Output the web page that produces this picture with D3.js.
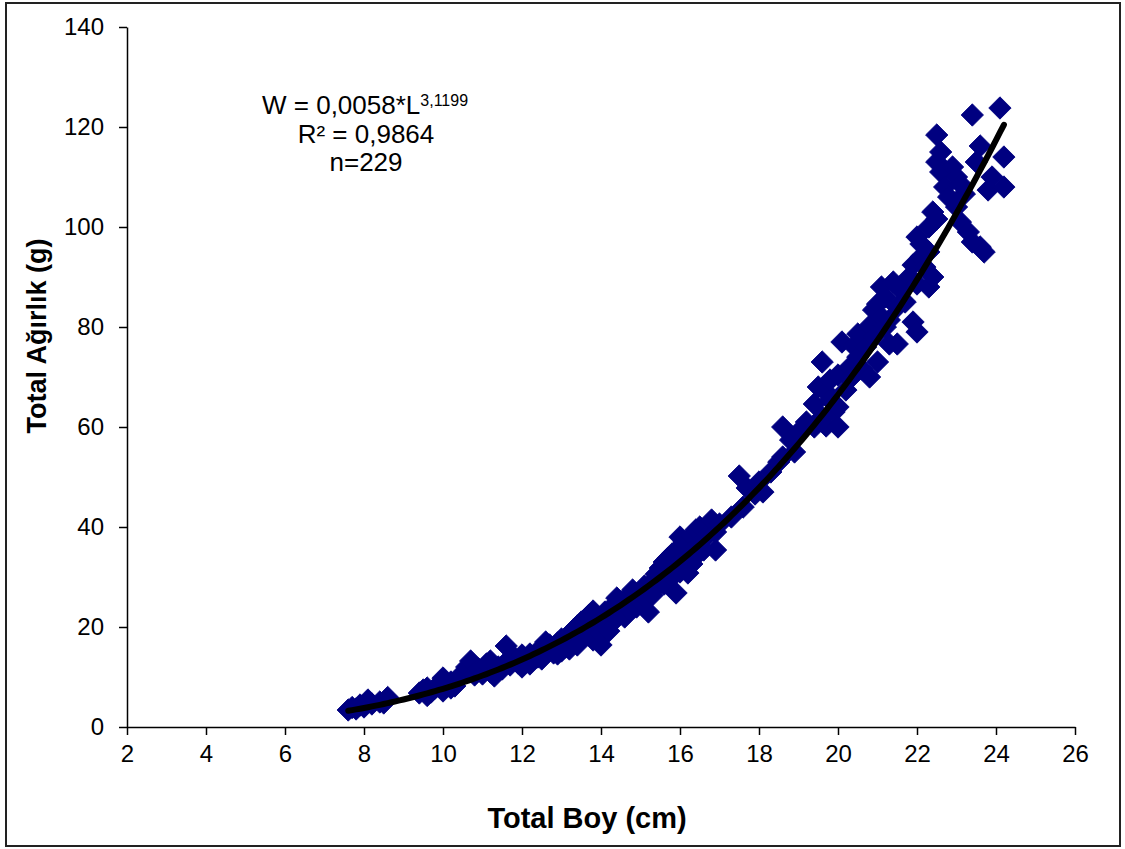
<!DOCTYPE html>
<html>
<head>
<meta charset="utf-8">
<script src="https://cdn.jsdelivr.net/npm/d3@7"></script>
<style>
  body { margin: 0; background: #fff; }
  text { font-family: "Liberation Sans", Arial, sans-serif; fill: #000; }
</style>
</head>
<body>
<div id="chart"></div>
<script>
// total length (cm) of each fish
var boyCm = [
  7.6, 7.7, 7.8, 7.9, 8.0, 8.1, 8.2, 8.4, 8.6, 8.5,
  9.4, 9.5, 9.6, 9.7, 9.8, 9.9, 10.0, 10.0, 10.1, 10.2, 10.3, 10.4, 9.6, 10.2,
  10.6, 10.7, 10.8, 10.9, 11.0, 11.1, 11.2, 11.3, 11.4, 11.5, 11.6, 11.6, 11.7, 11.8, 11.9, 12.0, 12.0, 11.2,
  12.1, 12.2, 12.2, 12.3, 12.4, 12.4, 12.5, 12.6, 12.6, 12.7, 12.8, 12.8, 12.9, 13.0, 13.0, 13.1, 13.2, 13.2,
  13.3, 13.3, 13.4, 13.4, 13.5, 13.5, 12.9,
  13.6, 13.6, 13.7, 13.7, 13.8, 13.8, 13.9, 13.9, 14.0, 14.0, 14.0, 14.1, 14.2, 14.2, 14.3, 14.3, 14.4, 14.4,
  14.5, 14.5, 14.6, 14.6, 14.7, 14.7, 14.8, 14.8, 14.9, 14.9, 15.0, 15.0, 15.1, 15.1, 15.2, 15.2, 15.3,
  15.3, 15.4, 15.4, 15.5, 15.5, 15.6, 15.6, 15.7, 15.7, 15.8, 15.8, 15.9, 15.9, 16.0, 16.0, 16.0, 16.1, 16.1,
  16.2, 16.2, 16.3, 16.3, 16.4, 16.4, 16.5, 16.5, 16.6, 16.6, 16.7, 16.8, 16.9, 16.9, 17.0, 16.2,
  17.3, 17.5, 17.6, 17.7, 17.9, 18.0, 18.1, 18.3, 18.5, 18.6, 18.6, 18.8, 19.0, 18.9, 19.2,
  19.4, 19.4, 19.5, 19.6, 19.6, 19.7, 19.7, 19.8, 19.8, 19.9, 20.0, 20.0, 20.0, 20.1, 20.2, 20.3, 20.4, 20.5,
  20.5, 20.6, 20.7, 20.8, 20.8, 20.9, 20.9, 21.0, 21.0, 20.3,
  21.1, 21.1, 21.2, 21.2, 21.3, 21.3, 21.4, 21.5, 21.5, 21.6, 21.7, 21.8, 21.9, 21.9, 22.0, 22.0, 22.0, 22.1,
  22.2, 22.3, 22.3, 22.3, 22.4, 22.4, 22.5, 22.5, 22.5, 22.1,
  22.6, 22.6, 22.7, 22.8, 22.9, 23.0, 23.0, 23.1, 23.1, 23.2, 23.3, 23.4, 23.4, 23.5, 23.6, 23.6, 23.7, 23.8,
  23.9, 24.1, 24.2, 24.2
];

// total weight (g), same order as boyCm
var agirlikG = [
  3.4, 3.9, 3.6, 4.4, 4.0, 5.4, 4.6, 5.0, 5.9, 4.8,
  6.8, 7.4, 6.3, 7.0, 7.8, 8.2, 9.8, 7.2, 8.6, 9.0, 8.2, 10.0, 7.8, 7.8,
  12.0, 13.2, 10.4, 11.6, 10.6, 12.6, 11.0, 10.2, 12.0, 11.6, 16.2, 13.0, 12.4, 14.0, 12.8, 12.0, 14.4, 13.2,
  13.0, 14.6, 12.6, 13.6, 15.2, 14.0, 13.6, 17.0, 15.4, 16.4, 14.8, 15.8, 16.8, 15.2, 17.6, 16.0, 18.6, 15.6,
  19.4, 17.0, 20.2, 16.4, 18.0, 21.0, 14.6,
  21.6, 18.8, 22.4, 19.6, 23.2, 17.4, 20.6, 22.0, 16.4, 21.4, 18.6, 23.0, 21.0, 19.2, 22.6, 24.2, 25.8, 21.8,
  23.0, 25.0, 24.4, 22.0, 26.2, 23.6, 25.4, 27.4, 24.0, 26.6, 27.0, 25.0, 28.2, 26.0, 23.0, 27.6, 29.0,
  26.4, 28.0, 30.6, 31.8, 29.4, 33.0, 28.6, 31.0, 33.8, 30.0, 34.6, 26.8, 32.4, 36.0, 31.0, 38.0, 33.6, 37.0,
  34.0, 36.6, 38.2, 32.6, 36.0, 39.4, 35.0, 40.0, 37.6, 35.4, 38.6, 41.4, 35.4, 39.0, 40.6, 30.8,
  42.0, 50.2, 44.0, 47.8, 46.6, 49.0, 47.0, 51.0, 53.0, 54.0, 60.0, 57.4, 59.0, 55.0, 61.0,
  60.0, 64.6, 68.0, 73.0, 62.0, 67.0, 60.2, 65.4, 69.4, 63.0, 60.0, 70.4, 64.0, 77.0, 67.4, 72.0, 76.2, 78.6,
  74.0, 71.6, 76.0, 70.0, 80.2, 83.4, 78.0, 73.0, 84.6, 69.6,
  82.0, 88.0, 80.0, 86.0, 81.4, 76.6, 89.0, 76.6, 84.0, 87.4, 85.0, 90.0, 92.4, 81.0, 79.0, 88.6, 98.0, 94.0,
  92.0, 88.0, 100.0, 95.0, 90.0, 103.0, 101.6, 113.0, 118.4, 96.6,
  111.0, 115.0, 108.0, 106.0, 112.0, 110.0, 104.0, 108.6, 101.0, 106.6, 99.0, 122.4, 97.0, 113.0, 116.2, 96.0,
  95.0, 107.4, 110.0, 123.8, 114.0, 108.0
];

// fitted length-weight relation shown on the chart: W = a * L^b
var fitA = 0.0058;
var fitB = 3.1199;
var fitRange = [7.6, 24.2];

var xTicks = [2, 4, 6, 8, 10, 12, 14, 16, 18, 20, 22, 24, 26];
var yTicks = [0, 20, 40, 60, 80, 100, 120, 140];

var w = 1125;
var h = 849;

var xScale = d3.scaleLinear().domain([2, 26]).range([127, 1075]);
var yScale = d3.scaleLinear().domain([0, 140]).range([727, 27]);

var svg = d3.select('#chart')
  .append('svg')
  .attr('width', w)
  .attr('height', h);

// outer frame
svg.append('rect')
  .attr('x', 6).attr('y', 3)
  .attr('width', 1114).attr('height', 843)
  .attr('fill', 'none')
  .attr('stroke', '#222')
  .attr('stroke-width', 2);

// axes
var xAxis = svg.append('g')
  .attr('transform', 'translate(0,' + yScale(0) + ')')
  .call(d3.axisBottom(xScale).tickValues(xTicks).tickSize(8).tickSizeOuter(0).tickPadding(10));
var yAxis = svg.append('g')
  .attr('transform', 'translate(' + xScale(2) + ',0)')
  .call(d3.axisLeft(yScale).tickValues(yTicks).tickSize(8).tickSizeOuter(0).tickPadding(15));

[xAxis, yAxis].forEach(function(ax) {
  ax.selectAll('path').attr('stroke', '#000').attr('stroke-width', 1.5);
  ax.selectAll('line').attr('stroke', '#000').attr('stroke-width', 1.5);
  ax.selectAll('text')
    .style('font-family', '"Liberation Sans", Arial, sans-serif')
    .style('font-size', '24px')
    .attr('fill', '#111');
});

// points
var pts = boyCm.map(function(d, i) { return [d, agirlikG[i]]; });
svg.append('g')
  .selectAll('path')
  .data(pts)
  .enter()
  .append('path')
  .attr('transform', function(d) {
    return 'translate(' + xScale(d[0]) + ',' + yScale(d[1]) + ') rotate(45)';
  })
  .attr('d', d3.symbol().type(d3.symbolSquare).size(250))
  .attr('fill', '#000080')
  .attr('stroke', '#000080')
  .attr('stroke-width', 0.8)
  .attr('stroke-linejoin', 'round');

// trend line
var curve = d3.range(fitRange[0], fitRange[1] + 0.001, 0.1).map(function(L) {
  return [L, fitA * Math.pow(L, fitB)];
});
svg.append('path')
  .datum(curve)
  .attr('fill', 'none')
  .attr('stroke', '#000')
  .attr('stroke-width', 6)
  .attr('stroke-linecap', 'round')
  .attr('d', d3.line()
    .x(function(d) { return xScale(d[0]); })
    .y(function(d) { return yScale(d[1]); }));

// equation text
var eq = svg.append('text')
  .attr('x', 262).attr('y', 114)
  .style('font-size', '26px')
  .attr('fill', '#222');
eq.append('tspan').text('W = 0,0058*L');
eq.append('tspan').attr('dy', -8).style('font-size', '16px').text('3,1199');

svg.append('text')
  .attr('x', 366).attr('y', 143)
  .attr('text-anchor', 'middle')
  .style('font-size', '26px')
  .attr('fill', '#222')
  .text('R² = 0,9864');
svg.append('text')
  .attr('x', 366).attr('y', 171)
  .attr('text-anchor', 'middle')
  .style('font-size', '26px')
  .attr('fill', '#222')
  .text('n=229');

// axis titles
svg.append('text')
  .attr('x', 587).attr('y', 828)
  .attr('text-anchor', 'middle')
  .style('font-size', '29px')
  .style('font-weight', 'bold')
  .text('Total Boy (cm)');
svg.append('text')
  .attr('transform', 'translate(46,' + 336 + ') rotate(-90)')
  .attr('text-anchor', 'middle')
  .style('font-size', '27px')
  .style('font-weight', 'bold')
  .text('Total Ağırlık (g)');
</script>
</body>
</html>
